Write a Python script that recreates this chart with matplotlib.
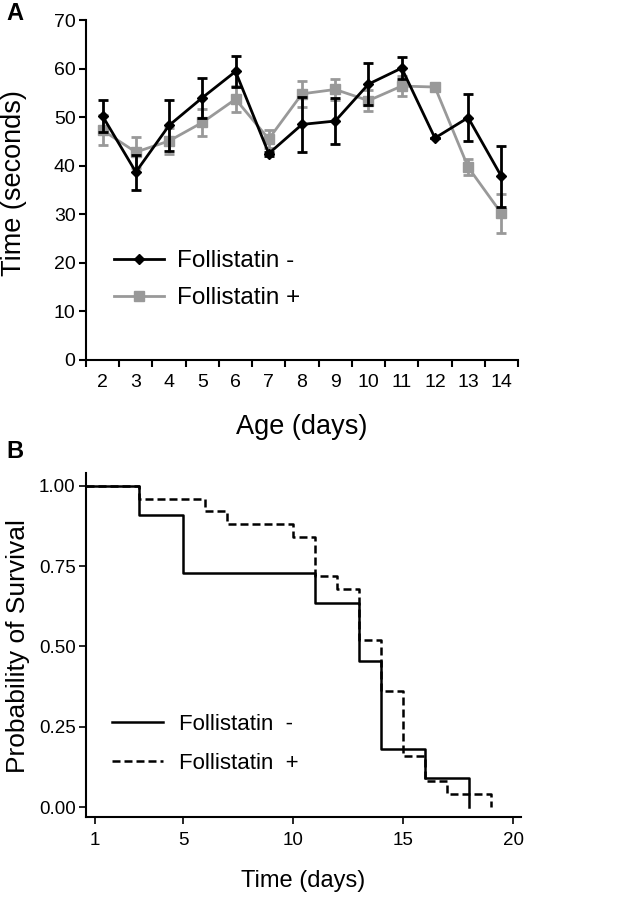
import matplotlib
matplotlib.use("Agg")
import matplotlib.pyplot as plt
import numpy as np

plt.rcParams['font.family'] = ['Liberation Sans', 'DejaVu Sans']

# ---------------- Panel A data ----------------
ages = ['2', '3', '4', '5', '6', '7', '8', '9', '10', '11', '12', '13', '14']
minus_mean = [50.2, 38.7, 48.3, 54.0, 59.4, 42.5, 48.5, 49.2, 56.8, 60.1, 45.7, 49.9, 37.8]
minus_err = [3.3, 3.6, 5.2, 4.1, 3.1, 0.4, 5.6, 4.7, 4.4, 2.2, 0.0, 4.8, 6.3]
plus_mean = [47.3, 42.8, 45.1, 48.9, 53.7, 45.5, 54.8, 55.7, 53.4, 56.4, 56.2, 39.7, 30.2]
plus_err = [3.1, 3.2, 2.6, 2.8, 2.7, 1.9, 2.7, 2.2, 2.1, 2.0, 0.0, 1.7, 3.95]
a_yticks = [0, 10, 20, 30, 40, 50, 60, 70]

# ---------------- Panel B data ----------------
km_minus_t = [0.6, 3, 5, 11, 13, 14, 16, 18]
km_minus_s = [1.0, 0.909, 0.727, 0.636, 0.455, 0.182, 0.091, 0.0]
km_plus_t = [0.6, 3, 6, 7, 10, 11, 12, 13, 14, 15, 16, 17, 19]
km_plus_s = [1.0, 0.96, 0.92, 0.88, 0.84, 0.72, 0.68, 0.52, 0.36, 0.16, 0.08, 0.04, 0.0]
b_xticks = [1, 5, 10, 15, 20]
b_yticks = [0.0, 0.25, 0.50, 0.75, 1.00]

GRAY = '#999999'
fig = plt.figure(figsize=(6.42, 8.99), dpi=100)

# ---------------- Panel A ----------------
axA = fig.add_axes([86/642, 1-360/899, 432/642, 340/899])
x = np.arange(len(ages))
ebm = axA.errorbar(x, minus_mean, yerr=minus_err, color='black', lw=2, marker='D', ms=5.5,
                   capsize=3.5, capthick=2, elinewidth=2, zorder=3)
ebp = axA.errorbar(x, plus_mean, yerr=plus_err, color=GRAY, lw=2, marker='s', ms=6.5,
                   capsize=3.5, capthick=2, elinewidth=2, zorder=2)
axA.set_xlim(-0.5, len(ages) - 0.5)
axA.set_ylim(0, 70)
axA.set_yticks(a_yticks)
axA.set_xticks(np.arange(len(ages) + 1) - 0.5)
axA.set_xticklabels([])
axA.set_xticks(x, minor=True)
axA.set_xticklabels(ages, minor=True)
axA.tick_params(axis='x', which='major', length=5, width=1.5, direction='out')
axA.tick_params(axis='x', which='minor', length=0, pad=10, labelsize=14)
axA.tick_params(axis='y', length=5, width=1.5, direction='out', labelsize=14, pad=2.5)
for s in ['top', 'right']:
    axA.spines[s].set_visible(False)
for s in ['left', 'bottom']:
    axA.spines[s].set_linewidth(1.5)
axA.set_xlabel('Age (days)', fontsize=19.5)
axA.set_ylabel('Time (seconds)', fontsize=19.5)
axA.xaxis.set_label_coords(0.5, -0.158)
axA.yaxis.set_label_coords(-0.137, 0.52)
axA.legend([ebm[0], ebp[0]], ['Follistatin -', 'Follistatin +'],
           loc='center left', bbox_to_anchor=(0.065, 0.236), frameon=False,
           fontsize=17.5, handlelength=2.05, handletextpad=0.53, labelspacing=0.62,
           borderpad=0, borderaxespad=0)

# ---------------- Panel B ----------------
axB = fig.add_axes([86/642, 1-817/899, 435/642, 344/899])
lm, = axB.step(km_minus_t, km_minus_s, where='post', color='black', lw=1.8)
lp, = axB.step(km_plus_t, km_plus_s, where='post', color='black', lw=1.8,
               linestyle=(0, (3.2, 1.6)))
axB.set_xlim(0.59, 20.36)
axB.set_ylim(-0.031, 1.0395)
axB.set_xticks(b_xticks)
axB.set_yticks(b_yticks)
axB.set_yticklabels(['%.2f' % v for v in b_yticks])
axB.tick_params(axis='both', length=5, width=1.2, direction='out')
axB.tick_params(axis='x', pad=6, labelsize=13.5)
axB.tick_params(axis='y', pad=2.5, labelsize=13.5)
for s in ['top', 'right']:
    axB.spines[s].set_visible(False)
for s in ['left', 'bottom']:
    axB.spines[s].set_linewidth(1.5)
axB.set_xlabel('Time (days)', fontsize=17)
axB.set_ylabel('Probability of Survival', fontsize=19)
axB.xaxis.set_label_coords(0.5, -0.155)
axB.yaxis.set_label_coords(-0.128, 0.497)
axB.legend([lm, lp], ['Follistatin  -', 'Follistatin  +'],
           loc='center left', bbox_to_anchor=(0.06, 0.212), frameon=False,
           fontsize=16, handlelength=2.3, handletextpad=0.72, labelspacing=0.8,
           borderpad=0, borderaxespad=0)

fig.text(15/642, 1-13/899, 'A', fontsize=17, fontweight='bold', ha='center', va='center')
fig.text(15/642, 1-452/899, 'B', fontsize=17, fontweight='bold', ha='center', va='center')

fig.savefig('out.png', dpi=100)
